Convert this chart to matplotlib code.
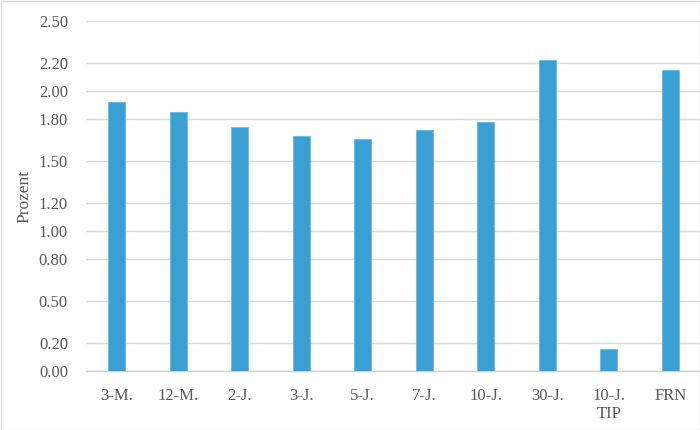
import matplotlib
matplotlib.use("Agg")
import matplotlib.pyplot as plt
from matplotlib.patches import Rectangle

categories = ["3-M.", "12-M.", "2-J.", "3-J.", "5-J.", "7-J.", "10-J.", "30-J.", "10-J.\nTIP", "FRN"]
values = [1.92, 1.85, 1.74, 1.68, 1.66, 1.72, 1.78, 2.22, 0.16, 2.15]
yticks = [0.00, 0.20, 0.50, 0.80, 1.00, 1.20, 1.50, 1.80, 2.00, 2.20, 2.50]

plt.rcParams['font.family'] = ['Liberation Serif', 'DejaVu Serif']

fig = plt.figure(figsize=(7, 4.3), dpi=100)
ax = fig.add_axes([86/700, 59/430, 615/700, 350/430])

x = range(len(categories))
ax.bar(x, values, width=0.28, color='#3a9fd2', edgecolor='#6fb9df', linewidth=0.6, zorder=3)

ax.set_xlim(-0.5, len(categories) - 0.5)
ax.set_ylim(0, 2.5)
ax.set_yticks(yticks)
ax.set_yticklabels([f"{v:.2f}" for v in yticks])
ax.set_xticks(list(x))
ax.set_xticklabels(categories, linespacing=1.2)
ax.yaxis.grid(True, color='#d9d9d9', linewidth=1.0, zorder=0)
ax.set_axisbelow(True)
for s in ['top', 'right', 'left']:
    ax.spines[s].set_visible(False)
ax.spines['bottom'].set_color('#d0d0d0')
ax.spines['bottom'].set_linewidth(1.0)
ax.tick_params(axis='y', length=0, pad=13, labelsize=12, labelcolor='#595959')
ax.tick_params(axis='x', length=0, pad=12, labelsize=12, labelcolor='#595959')
ax.set_ylabel("Prozent", fontsize=12.5, color='#595959')
ax.yaxis.set_label_coords(-54/615, 0.5)

fig.patches.append(Rectangle((0.5/700, 0.5/430), 699/700, 429/430, transform=fig.transFigure,
                             fill=False, edgecolor='#d9d9d9', linewidth=1.0))

fig.savefig("out.png", dpi=100)
